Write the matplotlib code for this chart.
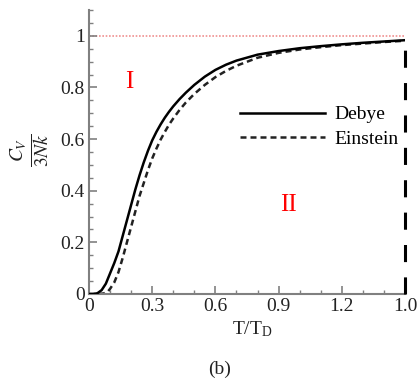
import matplotlib
matplotlib.use("Agg")
import matplotlib.pyplot as plt
from matplotlib.ticker import MultipleLocator, FixedLocator, FixedFormatter

plt.rcParams['font.family'] = ['Liberation Serif', 'DejaVu Serif']
plt.rcParams['mathtext.fontset'] = 'stix'

# Debye curve
t_debye = [0, 0.02, 0.04, 0.06, 0.08, 0.10, 0.12, 0.14, 0.16, 0.18, 0.20, 0.22,
           0.24, 0.26, 0.28, 0.30, 0.32, 0.34, 0.36, 0.38, 0.40, 0.43, 0.46,
           0.50, 0.55, 0.60, 0.65, 0.70, 0.80, 0.90, 1.0, 1.1, 1.2, 1.3, 1.4, 1.5]
cv_debye = [0, 0.0, 0.003, 0.015, 0.04, 0.08, 0.12, 0.165, 0.225, 0.285, 0.345,
            0.405, 0.46, 0.51, 0.555, 0.595, 0.628, 0.657, 0.683, 0.706, 0.727,
            0.755, 0.78, 0.81, 0.842, 0.868, 0.888, 0.904, 0.927, 0.941, 0.952,
            0.96, 0.967, 0.973, 0.978, 0.983]

# Einstein curve
t_einstein = [0, 0.04, 0.07, 0.09, 0.10, 0.12, 0.14, 0.16, 0.18, 0.20, 0.22,
              0.24, 0.26, 0.28, 0.30, 0.32, 0.34, 0.36, 0.38, 0.40, 0.43, 0.46,
              0.50, 0.55, 0.60, 0.65, 0.70, 0.80, 0.90, 1.0, 1.1, 1.2, 1.3,
              1.4, 1.5]
cv_einstein = [0, 0, 0.002, 0.01, 0.02, 0.045, 0.085, 0.14, 0.2, 0.26, 0.32,
               0.38, 0.43, 0.48, 0.525, 0.563, 0.598, 0.628, 0.656, 0.68,
               0.713, 0.742, 0.775, 0.81, 0.84, 0.864, 0.884, 0.915, 0.934,
               0.947, 0.956, 0.964, 0.97, 0.976, 0.981]

limit_value = 1.0
x_ticks = [0, 0.3, 0.6, 0.9, 1.2, 1.5]
x_ticklabels = ['0', '0.3', '0.6', '0.9', '1.2', '1.0']
y_ticks = [0, 0.2, 0.4, 0.6, 0.8, 1.0]
y_ticklabels = ['0', '0.2', '0.4', '0.6', '0.8', '1']

W, H = 417, 381
fig = plt.figure(figsize=(W / 100, H / 100), dpi=100)
ax = fig.add_axes([89 / W, 1 - 294 / H, (405 - 89) / W, (294 - 10) / H])

ax.axhline(limit_value, color='#f09090', lw=1.2, ls=(0, (1, 1)), zorder=1)
ax.plot(t_debye, cv_debye, color='black', lw=1.8, label='Debye', zorder=3)
ax.plot(t_einstein, cv_einstein, color='#222222', lw=1.8, ls=(0, (2.4, 1.6)),
        label='Einstein', zorder=2)
ax.plot([t_debye[-1], t_debye[-1]], [0, limit_value], color='black', lw=2.2,
        ls=(0, (5.6, 5.0)), zorder=4, clip_on=False)

ax.set_xlim(0, 1.5)
ax.set_ylim(0, 1.1)

ax.xaxis.set_major_locator(FixedLocator(x_ticks))
ax.xaxis.set_major_formatter(FixedFormatter(x_ticklabels))
ax.xaxis.set_minor_locator(MultipleLocator(0.1))
ax.yaxis.set_major_locator(FixedLocator(y_ticks))
ax.yaxis.set_major_formatter(FixedFormatter(y_ticklabels))
ax.yaxis.set_minor_locator(MultipleLocator(0.05))

for s in ['top', 'right']:
    ax.spines[s].set_visible(False)
for s in ['left', 'bottom']:
    ax.spines[s].set_color('#808080')
    ax.spines[s].set_linewidth(1.5)

ax.tick_params(which='both', direction='in', color='#808080', labelsize=14,
               labelcolor='#222222')
ax.tick_params(which='major', length=6, width=1.2, pad=3)
ax.tick_params(which='minor', length=3, width=1.0)

ax.text(0.193, 0.82, 'I', color='red', fontsize=18, ha='center', va='center')
ax.text(0.945, 0.345, 'II', color='red', fontsize=18, ha='center', va='center')

leg = ax.legend(loc='upper left', bbox_to_anchor=(0.452, 0.69), frameon=False,
                fontsize=14, handlelength=4.4, handletextpad=0.45,
                labelspacing=0.35, borderaxespad=0)

fig.text(30 / W, 1 - 150 / H, r'$\frac{C_V}{3Nk}$', rotation=90, fontsize=20,
         ha='center', va='center', color='#222222')
fig.text(252 / W, 1 - 329 / H, r'T/T$_\mathregular{D}$', fontsize=14,
         ha='center', va='center', color='#222222')
fig.text(220 / W, 1 - 369 / H, '(b)', fontsize=14, ha='center', va='center',
         color='#222222')

fig.savefig('out.png', dpi=100)
